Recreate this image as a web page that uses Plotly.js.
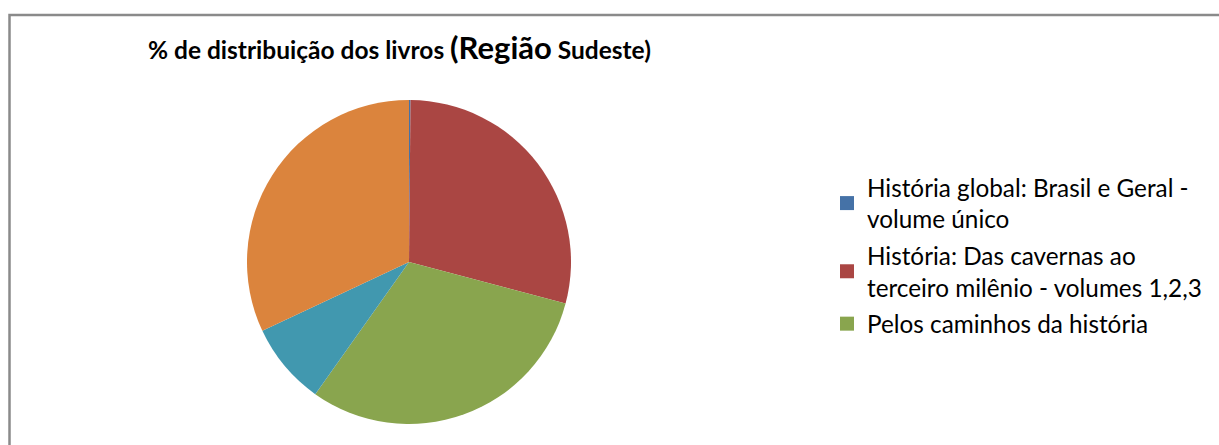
<!DOCTYPE html>
<html>
<head>
<meta charset="utf-8">
<script src="https://cdn.plot.ly/plotly-3.0.1.min.js"></script>
<style>html,body{margin:0;padding:0;background:#fff;}#chart{width:1219px;height:445px;}</style>
</head>
<body>
<div id="chart"></div>
<script>
// Data (% of books, Região Sudeste)
const categories = [
  "História global: Brasil e Geral - volume único",
  "História: Das cavernas ao terceiro milênio - volumes 1,2,3",
  "Pelos caminhos da história",
  "Outros (4)",
  "Outros (5)"
];
const legendLabels = [
  "História global: Brasil e Geral -<br>volume único",
  "História: Das cavernas ao<br>terceiro milênio - volumes 1,2,3",
  "Pelos caminhos da história"
];
const values = [0.15, 29.0, 30.7, 8.2, 32.0];
const colors = ["#4572A7", "#AA4643", "#89A54E", "#4198AF", "#DB843D"];

const W = 1219, H = 445;
const cx = 409, cy = 262, r = 162;

const FONT = "Lato, 'Open Sans', sans-serif";

const traces = [{
  type: "pie",
  labels: categories,
  values: values,
  marker: { colors: colors, line: { width: 0 } },
  sort: false,
  direction: "clockwise",
  rotation: 0,
  textinfo: "none",
  hoverinfo: "label+percent",
  showlegend: false,
  domain: { x: [(cx - r) / W, (cx + r) / W], y: [(H - cy - r) / H, (H - cy + r) / H] }
}];

legendLabels.forEach((name, i) => {
  traces.push({
    type: "scatter",
    x: [null], y: [null],
    mode: "markers",
    name: name,
    legendgroup: "g" + i,
    marker: { symbol: "square", size: 14, color: colors[i] },
    hoverinfo: "skip"
  });
});

const layout = {
  width: W, height: H,
  margin: { l: 0, r: 0, t: 0, b: 0 },
  paper_bgcolor: "#ffffff",
  plot_bgcolor: "#ffffff",
  font: { family: FONT, color: "#000000" },
  title: {
    text: "% de distribuição dos livros <span style='font-size:31px'>(Região</span> Sudeste)",
    font: { family: FONT, size: 24.5, weight: "bold", color: "#000000" },
    x: 148 / W, xanchor: "left", xref: "paper",
    y: 1 - 50 / H, yanchor: "middle", yref: "paper"
  },
  xaxis: { visible: false, domain: [0.9, 1] },
  yaxis: { visible: false, domain: [0.9, 1] },
  showlegend: true,
  legend: {
    x: 827 / W, xanchor: "left",
    y: 1 - 165 / H, yanchor: "top",
    font: { family: FONT, size: 24.3, color: "#000000" },
    tracegroupgap: 2,
    bgcolor: "rgba(0,0,0,0)",
    itemclick: false, itemdoubleclick: false
  },
  shapes: [{
    type: "rect", xref: "paper", yref: "paper",
    x0: 9.5 / W, x1: 1.05, y0: -0.05, y1: 1 - 15 / H,
    line: { color: "#8a8a8a", width: 2.5 }, fillcolor: "rgba(0,0,0,0)"
  }]
};

Plotly.newPlot("chart", traces, layout, { displayModeBar: false, staticPlot: true });
</script>
</body>
</html>
